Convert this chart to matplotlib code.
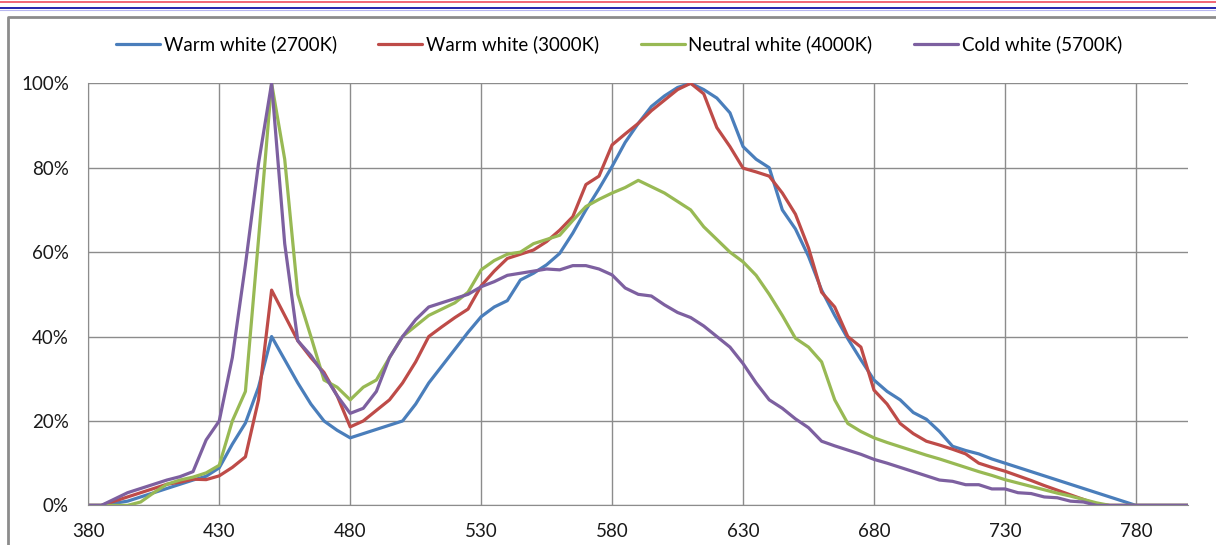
import matplotlib.pyplot as plt
from matplotlib.lines import Line2D
from matplotlib.ticker import FuncFormatter

# wavelength grid (nm)
wavelength = list(range(380, 805, 5))

warm_2700 = [0, 0, 0.5, 1.0, 2.0, 3.0, 4.0, 5.0, 6.0, 6.9,
             8.9, 14.5, 19.5, 28, 40, 34.5, 29, 24, 20, 17.8,
             16, 17, 18, 19, 20, 24, 29, 33, 37, 41,
             44.7, 47, 48.5, 53.4, 55, 57, 59.7, 64.5, 70, 75,
             80.3, 86, 90.5, 94.5, 97, 99, 100, 98.5, 96.5, 93,
             85, 82, 80, 70, 65.5, 59, 51, 45, 39.5, 34.5,
             29.7, 27, 25, 22, 20.4, 17.5, 14, 13, 12.2, 11,
             10, 9, 8, 7, 6, 5, 4, 3, 2, 1,
             0, 0, 0, 0, 0]

warm_3000 = [0, 0, 1.0, 2.0, 3.0, 4.0, 5.0, 5.5, 6.2, 6.1,
             7.0, 9.0, 11.5, 25, 51, 45, 39, 35, 31.5, 26,
             18.6, 20, 22.5, 25, 29, 34, 40, 42.3, 44.5, 46.5,
             52, 55.5, 58.5, 59.5, 60.5, 62.5, 65.2, 68.4, 76, 78,
             85.4, 88, 90.5, 93.5, 96, 98.5, 100, 97.5, 89.5, 85,
             79.9, 79, 78, 74, 69, 61, 50.5, 47, 40, 37.5,
             27.3, 24, 19.4, 17, 15.2, 14.3, 13.3, 12.2, 10, 9,
             8.1, 7.0, 5.9, 4.7, 3.6, 2.5, 1.4, 0.3, 0, 0,
             0, 0, 0, 0, 0]

neutral_4000 = [0, 0, 0, 0, 0.8, 3.0, 5.0, 6.0, 6.7, 7.7,
                9.5, 20, 27, 63, 100, 82, 50, 40, 29.7, 28,
                25, 28, 29.7, 35, 40, 42.5, 45, 46.5, 48, 50.5,
                55.8, 58, 59.5, 60, 62, 63, 64, 67.5, 70.8, 72.5,
                74, 75.3, 77, 75.5, 74, 72, 70, 66, 63, 60,
                57.7, 54.5, 50, 45, 39.6, 37.5, 34, 25, 19.4, 17.5,
                16, 14.9, 13.9, 12.9, 11.9, 11, 10, 9, 8, 7.1,
                6.1, 5.3, 4.5, 3.7, 2.9, 2.2, 1.4, 0.6, 0, 0,
                0, 0, 0, 0, 0]

cold_5700 = [0, 0, 1.5, 3.0, 4.0, 5.0, 6.0, 6.8, 8.0, 15.5,
             20, 35, 57, 81, 100, 62, 39, 35.5, 31, 26,
             21.8, 23, 27, 35, 40, 44, 47, 48, 49, 50,
             51.8, 53, 54.5, 55, 55.5, 56, 55.8, 56.8, 56.8, 56,
             54.6, 51.5, 50, 49.6, 47.5, 45.7, 44.5, 42.5, 40, 37.5,
             33.6, 29, 25, 23, 20.5, 18.4, 15.2, 14.1, 13.1, 12.1,
             10.9, 10, 9, 8, 7, 6, 5.7, 4.9, 4.9, 3.9,
             3.9, 3, 2.8, 2, 1.8, 1.0, 0.8, 0, 0, 0,
             0, 0, 0, 0, 0]

series = [
    ("Warm white (2700K)", warm_2700, "#4A7EBB"),
    ("Warm white (3000K)", warm_3000, "#BE4B48"),
    ("Neutral white (4000K)", neutral_4000, "#98B954"),
    ("Cold white (5700K)", cold_5700, "#7D60A0"),
]

plt.rcParams['font.family'] = ['Lato', 'DejaVu Sans']

fig = plt.figure(figsize=(12.16, 5.45), dpi=100)
ax = fig.add_axes([0.0726, 0.0727, 0.9046, 0.7745])

for label, vals, color in series:
    ax.plot(wavelength, vals, color=color, lw=2.3, label=label,
            solid_joinstyle='round', solid_capstyle='round')

ax.set_xlim(380, 800)
ax.set_ylim(0, 100)
ax.set_xticks(range(380, 800, 50))
ax.set_yticks(range(0, 101, 20))
ax.yaxis.set_major_formatter(FuncFormatter(lambda v, p: "{:.0f}%".format(v)))
ax.grid(True, color="#8C8C8C", lw=1.0)
ax.set_axisbelow(True)
for s in ["top", "right"]:
    ax.spines[s].set_visible(False)
for s in ["left", "bottom"]:
    ax.spines[s].set_color("#8C8C8C")
ax.tick_params(length=0, labelsize=13.5, colors="#1a1a1a")
ax.tick_params(axis="x", pad=13)
ax.tick_params(axis="y", pad=14)

fig.legend(loc="center", bbox_to_anchor=(0.509, 0.919), ncol=4, frameon=False,
           fontsize=13.5, handlelength=2.35, handletextpad=0.2, columnspacing=2.2)

# page decorations: coloured rules and chart frame
fig.add_artist(Line2D([0, 1], [1 - 1.5 / 545] * 2, color="#F05A6A", lw=1.3))
fig.add_artist(Line2D([0, 1], [1 - 8.3 / 545] * 2, color="#0000A0", lw=1.2))
fig.add_artist(Line2D([0, 1], [1 - 9.8 / 545] * 2, color="#B8B8F0", lw=0.8))
fig.add_artist(Line2D([8 / 1216, 8 / 1216, 1], [0, 1 - 16.5 / 545, 1 - 16.5 / 545],
                      color="#8C8C8C", lw=2.0))

plt.savefig("out.png", dpi=100)
